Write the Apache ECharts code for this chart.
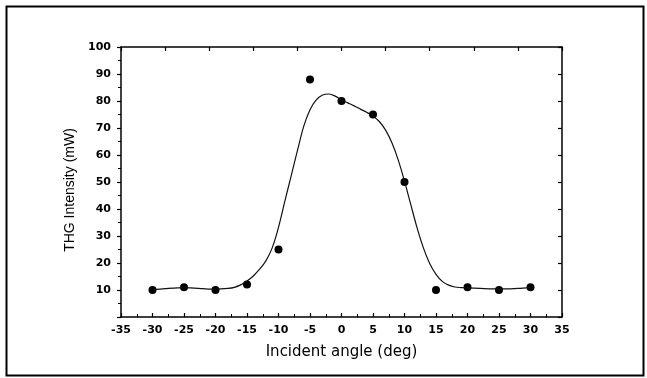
<!DOCTYPE html>
<html>
<head>
<meta charset="utf-8">
<script src="https://cdn.jsdelivr.net/npm/echarts@6/dist/echarts.min.js"></script>
<style>
html,body{margin:0;padding:0;background:#fff;}
#chart{width:647px;height:378px;}
</style>
</head>
<body>
<div id="chart"></div>
<script>
// Measured points
const angles = [-30, -25, -20, -15, -10, -5, 0, 5, 10, 15, 20, 25, 30];
const intensity = [10, 11, 10, 12, 25, 88, 80, 75, 50, 10, 11, 10, 11];

// Fitted curve
const fitX = [-30, -28, -26, -24, -22, -20, -18, -17, -16, -15, -14, -13, -12, -11, -10, -9, -8, -7, -6, -5, -4, -3, -2, -1, 0, 1, 2, 3, 4, 5, 6, 7, 8, 9, 10, 11, 12, 13, 14, 15, 16, 17, 18, 19, 20, 22, 24, 26, 28, 30];
const fitY = [10.1, 10.5, 10.8, 10.8, 10.5, 10.3, 10.6, 11, 11.9, 13.3, 15.2, 17.7, 20.8, 25.6, 33.2, 42.8, 52.2, 61.6, 70.6, 76.8, 80.4, 82.2, 82.6, 81.8, 80.4, 79.3, 78.2, 77.0, 75.8, 74.4, 72.4, 69.2, 64.5, 58.2, 50.3, 41.6, 33.0, 25.6, 19.8, 15.8, 13.2, 11.8, 11.1, 10.9, 10.8, 10.6, 10.4, 10.4, 10.6, 11];

// Tick settings
const xMin = -35, xMax = 35, xStep = 5;
const yMin = 0, yMax = 100, yStep = 10;

const chart = echarts.init(document.getElementById('chart'), null, {renderer: 'canvas'});
const axisCol = '#000';
const tickFont = {color: '#000', fontFamily: 'DejaVu Sans', fontSize: 11, fontWeight: 'bold'};

chart.setOption({
  backgroundColor: '#fff',
  animation: false,
  grid: {left: 121, right: 85, top: 47, bottom: 61, containLabel: false},
  xAxis: [{
    type: 'value', position: 'bottom', min: xMin, max: xMax, interval: xStep,
    name: 'Incident angle (deg)', nameLocation: 'middle', nameGap: 28,
    nameTextStyle: {color: '#000', fontFamily: 'DejaVu Sans', fontSize: 15},
    axisLine: {show: true, onZero: false, lineStyle: {color: axisCol, width: 1.5}},
    axisTick: {show: true, inside: true, length: 4, lineStyle: {color: axisCol, width: 1.2}},
    minorTick: {show: true, splitNumber: 2, length: 3, lineStyle: {color: axisCol, width: 1}},
    axisLabel: Object.assign({margin: 8}, tickFont),
    splitLine: {show: false}
  }, {
    type: 'value', position: 'top', min: xMin, max: xMax, interval: 7,
    axisLine: {show: true, onZero: false, lineStyle: {color: axisCol, width: 1.5}},
    axisTick: {show: true, inside: true, length: 4, lineStyle: {color: axisCol, width: 1.2}},
    axisLabel: {show: false},
    splitLine: {show: false}
  }],
  yAxis: [{
    type: 'value', position: 'left', min: yMin, max: yMax, interval: yStep,
    name: 'THG Intensity (mW)', nameLocation: 'middle', nameGap: 44,
    nameTextStyle: {color: '#000', fontFamily: 'Liberation Sans', fontSize: 14, padding: [0, 16, 0, 0]},
    axisLine: {show: true, onZero: false, lineStyle: {color: axisCol, width: 1.5}},
    axisTick: {show: true, inside: false, length: 4, lineStyle: {color: axisCol, width: 1.2}},
    minorTick: {show: true, splitNumber: 2, length: 3, lineStyle: {color: axisCol, width: 1}},
    axisLabel: Object.assign({margin: 10, formatter: v => v === 0 ? '' : String(v)}, tickFont),
    splitLine: {show: false}
  }, {
    type: 'value', position: 'right', min: yMin, max: yMax, interval: yStep,
    axisLine: {show: true, onZero: false, lineStyle: {color: axisCol, width: 1.5}},
    axisTick: {show: true, inside: true, length: 4, lineStyle: {color: axisCol, width: 1.2}},
    axisLabel: {show: false},
    splitLine: {show: false}
  }],
  graphic: [{
    type: 'rect', left: 4, top: 4, silent: true,
    shape: {x: 0, y: 0, width: 637, height: 369},
    style: {fill: 'none', stroke: '#000', lineWidth: 2}
  }],
  series: [{
    type: 'line', xAxisIndex: 0, yAxisIndex: 0,
    data: fitX.map((x, i) => [x, fitY[i]]),
    smooth: 0.3, showSymbol: false, symbol: 'none',
    lineStyle: {color: '#111', width: 1.2}
  }, {
    type: 'scatter', xAxisIndex: 0, yAxisIndex: 0,
    data: angles.map((x, i) => [x, intensity[i]]),
    symbol: 'circle', symbolSize: 8,
    itemStyle: {color: '#000', opacity: 1}
  }]
});
</script>
</body>
</html>
